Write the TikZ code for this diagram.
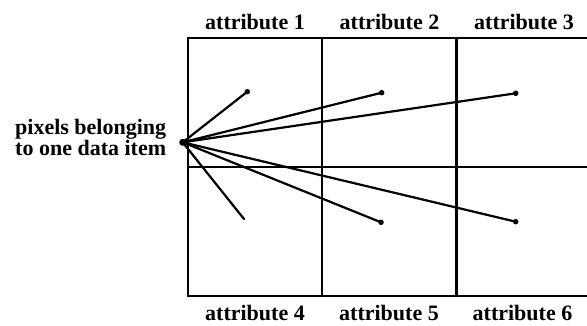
\documentclass[tikz,border=0pt]{standalone}
\usepackage{fontspec}
\setmainfont{Liberation Serif}
\begin{document}
\begin{tikzpicture}[x=1pt,y=-1pt,
  gridline/.style={line width=2.1pt,black},
  ray/.style={line width=2.2pt,black,line cap=round},
  enddot/.style={circle,fill=black,inner sep=0pt,minimum size=5.5pt},
  attr/.style={font=\fontsize{22}{22}\selectfont\bfseries,inner sep=0pt}]
\useasboundingbox (0,0) rectangle (587,325);
% grid
\draw[gridline] (587,38) -- (188.3,38) -- (188.3,295.7) -- (587,295.7);
\draw[gridline] (188.3,167.3) -- (587,167.3);
\draw[gridline] (321.7,38) -- (321.7,295.7);
\draw[gridline] (456.5,38) -- (456.5,295.7);
% labels
\node[attr] (a1) at (255,21.7) {attribute 1};
\node[attr] (a2) at (389.5,21.7) {attribute 2};
\node[attr] (a3) at (524,21.7) {attribute 3};
\node[attr] (a4) at (255,312.5) {attribute 4};
\node[attr] (a5) at (389,312.5) {attribute 5};
\node[attr] (a6) at (522.5,312.5) {attribute 6};
\node[attr,align=left,anchor=west,font=\fontsize{22}{21.5}\selectfont\bfseries] (lbl) at (15,137.5) {pixels belonging\\to one data item};
% origin and endpoints
\node[circle,fill=black,inner sep=0pt,minimum size=7pt] (o) at (182.7,142.3) {};
\node[enddot] (e1) at (247.3,91.7) {};
\node[enddot] (e2) at (381.7,92.7) {};
\node[enddot] (e3) at (515.7,93.3) {};
\coordinate (e4) at (244,219);
\node[enddot] (e5) at (381,222.3) {};
\node[enddot] (e6) at (515.7,221.7) {};
\foreach \e in {e1,e2,e3,e4,e5,e6} \draw[ray] (o.center) -- (\e.center);
\end{tikzpicture}
\end{document}
